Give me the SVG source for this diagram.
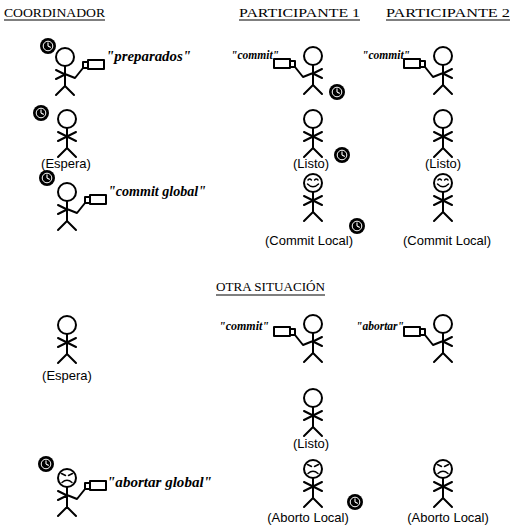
<svg xmlns="http://www.w3.org/2000/svg" xmlns:xlink="http://www.w3.org/1999/xlink" width="513" height="530" viewBox="0 0 513 530">
  <style>
    .ln { fill: none; stroke: #000; stroke-width: 2; stroke-linecap: round; stroke-linejoin: round; }
    .head { fill: #fff; stroke: #000; stroke-width: 2; }
    .mega { fill: #fff; stroke: #000; stroke-width: 2; stroke-linejoin: round; }
    .face { fill: none; stroke: #000; stroke-width: 1.5; stroke-linecap: round; }
    .hdr { font-family: "Liberation Serif", "Times New Roman", serif; font-size: 13px; fill: #000; }
    .lbl { font-family: "Liberation Sans", Arial, sans-serif; font-size: 13px; fill: #000; text-anchor: middle; }
    .say { font-family: "Liberation Serif", "Times New Roman", serif; font-size: 14px; font-style: italic; font-weight: bold; fill: #000; }
    .say-s { font-size: 13px; }
    .ul { stroke: #000; stroke-width: 1.2; }
  </style>
  <defs>
    <!-- plain figure: head, body, crossed arms, legs -->
    <g id="fig">
      <circle class="head" r="9"/>
      <path class="ln" d="M0,9 V29 M-9,13 L9,22 M9,13 L-9,22 M-9,38 L0,29 L9,38"/>
    </g>
    <!-- figure holding a megaphone to its right -->
    <g id="figR">
      <circle class="head" r="9"/>
      <path class="ln" d="M0,9 V29 M-9,13 L0,17.5 L-9,22 M0,17 L10,21 L18,11 M-9,38 L0,29 L9,38"/>
      <path class="mega" d="M18,5 h5 v6 h-5 z M23,3 h16 v9 h-16 z"/>
    </g>
    <!-- figure holding a megaphone to its left -->
    <g id="figL">
      <circle class="head" r="9"/>
      <path class="ln" d="M0,9 V29 M9,13 L0,17.5 L9,22 M0,17 L-10,21 L-18,11 M-9,38 L0,29 L9,38"/>
      <path class="mega" d="M-18,5 h-5 v6 h5 z M-23,3 h-16 v9 h16 z"/>
    </g>
    <g id="smile">
      <path class="face" d="M-5,-3 q1.7,-1.8 3.4,0 M1.6,-3 q1.7,-1.8 3.4,0 M-5.5,1 q5.5,5.5 11,0"/>
    </g>
    <g id="frown">
      <path class="face" d="M-5.5,-4.5 L-1.5,-2.5 M5.5,-4.5 L1.5,-2.5 M-5,4.5 q5,-4.5 10,0"/>
    </g>
    <!-- clock badge -->
    <g id="clock">
      <circle r="8" fill="#000"/>
      <circle r="4.8" fill="none" stroke="#fff" stroke-width="1"/>
      <path d="M0,0 V-3.4 M0,0 L2.8,1.4" stroke="#fff" stroke-width="1.1" fill="none"/>
    </g>
  </defs>

  <!-- column headings -->
  <g id="headings">
    <text class="hdr" x="4" y="17" textLength="101" lengthAdjust="spacingAndGlyphs">COORDINADOR</text>
    <line class="ul" x1="4" y1="20" x2="105" y2="20"/>
    <text class="hdr" x="239" y="17" textLength="121" lengthAdjust="spacingAndGlyphs">PARTICIPANTE 1</text>
    <line class="ul" x1="239" y1="20" x2="360" y2="20"/>
    <text class="hdr" x="386" y="17" textLength="124" lengthAdjust="spacingAndGlyphs">PARTICIPANTE 2</text>
    <line class="ul" x1="386" y1="20" x2="510" y2="20"/>
    <text class="hdr" x="216" y="291" textLength="109" lengthAdjust="spacingAndGlyphs">OTRA SITUACIÓN</text>
    <line class="ul" x1="216" y1="295" x2="325" y2="295"/>
  </g>

  <!-- first round: commit -->
  <g id="coord-preparados">
    <use xlink:href="#figR" x="65" y="57"/>
    <use xlink:href="#clock" x="48" y="46"/>
    <text class="say" x="106" y="61" textLength="85" lengthAdjust="spacingAndGlyphs">"preparados"</text>
  </g>
  <g id="p1-commit">
    <use xlink:href="#figL" x="313" y="56"/>
    <use xlink:href="#clock" x="337" y="92"/>
    <text class="say say-s" x="231" y="59" textLength="48" lengthAdjust="spacingAndGlyphs">"commit"</text>
  </g>
  <g id="p2-commit">
    <use xlink:href="#figL" x="443" y="56"/>
    <text class="say say-s" x="362" y="59" textLength="48" lengthAdjust="spacingAndGlyphs">"commit"</text>
  </g>

  <g id="coord-espera">
    <use xlink:href="#fig" x="67" y="119"/>
    <use xlink:href="#clock" x="41" y="113"/>
    <text class="lbl" x="66" y="168">(Espera)</text>
  </g>
  <g id="p1-listo">
    <use xlink:href="#fig" x="313" y="119"/>
    <use xlink:href="#clock" x="342" y="155"/>
    <text class="lbl" x="311" y="168">(Listo)</text>
  </g>
  <g id="p2-listo">
    <use xlink:href="#fig" x="443" y="119"/>
    <text class="lbl" x="443" y="168">(Listo)</text>
  </g>

  <g id="coord-commit-global">
    <use xlink:href="#figR" x="67" y="192"/>
    <use xlink:href="#clock" x="47" y="178"/>
    <text class="say" x="108" y="196" textLength="98" lengthAdjust="spacingAndGlyphs">"commit global"</text>
  </g>
  <g id="p1-commit-local">
    <use xlink:href="#fig" x="313" y="183"/>
    <use xlink:href="#smile" x="313" y="183"/>
    <use xlink:href="#clock" x="357" y="226"/>
    <text class="lbl" x="309" y="245">(Commit Local)</text>
  </g>
  <g id="p2-commit-local">
    <use xlink:href="#fig" x="443" y="183"/>
    <use xlink:href="#smile" x="443" y="183"/>
    <text class="lbl" x="447" y="245">(Commit Local)</text>
  </g>

  <!-- second round: abort -->
  <g id="coord-espera-2">
    <use xlink:href="#fig" x="67" y="325"/>
    <text class="lbl" x="67" y="380">(Espera)</text>
  </g>
  <g id="p1-commit-2">
    <use xlink:href="#figL" x="313" y="324"/>
    <text class="say say-s" x="219" y="330" textLength="50" lengthAdjust="spacingAndGlyphs">"commit"</text>
  </g>
  <g id="p2-abortar">
    <use xlink:href="#figL" x="443" y="324"/>
    <text class="say say-s" x="356" y="330" textLength="48" lengthAdjust="spacingAndGlyphs">"abortar"</text>
  </g>
  <g id="p1-listo-2">
    <use xlink:href="#fig" x="313" y="398"/>
    <text class="lbl" x="311" y="448">(Listo)</text>
  </g>

  <g id="coord-abortar-global">
    <use xlink:href="#figR" x="67" y="478"/>
    <use xlink:href="#frown" x="67" y="478"/>
    <use xlink:href="#clock" x="46" y="464"/>
    <text class="say" x="107" y="487" textLength="105" lengthAdjust="spacingAndGlyphs">"abortar global"</text>
  </g>
  <g id="p1-aborto-local">
    <use xlink:href="#fig" x="313" y="469"/>
    <use xlink:href="#frown" x="313" y="469"/>
    <use xlink:href="#clock" x="355" y="502"/>
    <text class="lbl" x="308" y="522">(Aborto Local)</text>
  </g>
  <g id="p2-aborto-local">
    <use xlink:href="#fig" x="443" y="469"/>
    <use xlink:href="#frown" x="443" y="469"/>
    <text class="lbl" x="448" y="522">(Aborto Local)</text>
  </g>
</svg>
